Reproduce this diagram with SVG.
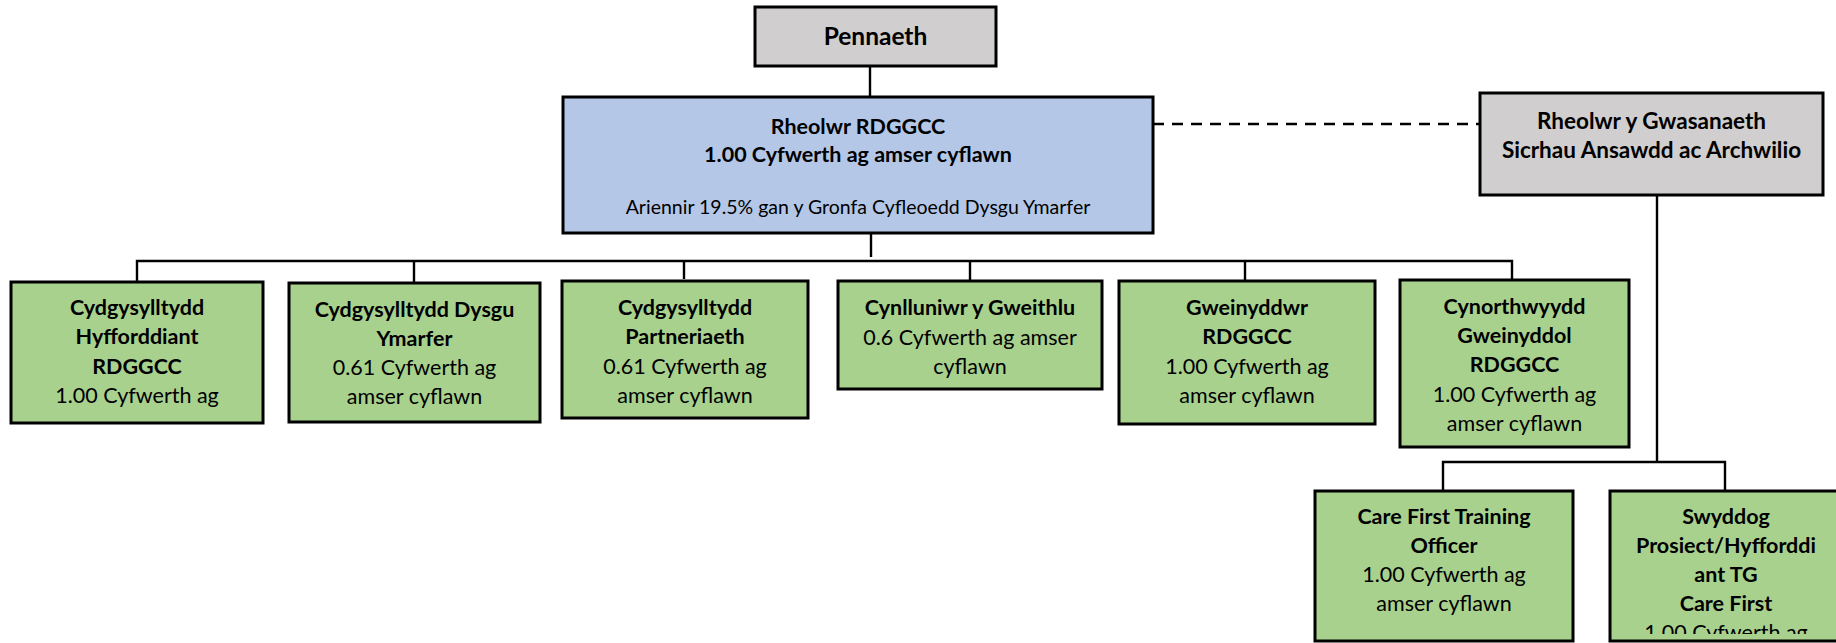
<svg xmlns="http://www.w3.org/2000/svg" width="1836" height="643" viewBox="0 0 1836 643">
<style>
  .box { stroke: #000; stroke-width: 3; }
  .gray { fill: #d0cece; }
  .blue { fill: #b4c7e7; }
  .green { fill: #a9d18e; }
  .conn { stroke: #000; stroke-width: 2.4; fill: none; }
  .dash { stroke: #000; stroke-width: 2.5; fill: none; stroke-dasharray: 11 8; }
  text { font-family: Lato, "Liberation Sans", sans-serif; font-size: 21.5px; fill: #000; text-anchor: middle; }
  .b { font-weight: 700; }
  .big { font-size: 24.5px; }
  .mid { font-size: 22.5px; }
  .small { font-size: 19.5px; }
</style>
<defs>
  <clipPath id="clipSwy"><rect x="1610" y="491" width="232" height="143"/></clipPath>
</defs>
<rect width="1836" height="643" fill="#fff"/>

<g id="connectors">
  <line class="conn" x1="870" y1="66" x2="870" y2="97"/>
  <line class="conn" x1="871" y1="233" x2="871" y2="257"/>
  <polyline class="conn" points="137,282 137,261 1512,261 1512,280"/>
  <line class="conn" x1="414" y1="261" x2="414" y2="283"/>
  <line class="conn" x1="684" y1="261" x2="684" y2="279"/>
  <line class="conn" x1="970" y1="261" x2="970" y2="281"/>
  <line class="conn" x1="1245" y1="261" x2="1245" y2="281"/>
  <line class="dash" x1="1153" y1="124" x2="1480" y2="124"/>
  <line class="conn" x1="1657" y1="195" x2="1657" y2="462"/>
  <polyline class="conn" points="1443,491 1443,462 1725,462 1725,491"/>
</g>

<g id="pennaeth">
  <rect class="box gray" x="755" y="7" width="241" height="59"/>
  <text class="b big" x="875.5" y="45">Pennaeth</text>
</g>

<g id="rheolwr-rdggcc">
  <rect class="box blue" x="563" y="97" width="590" height="136"/>
  <text class="b" x="858" y="134">Rheolwr RDGGCC</text>
  <text class="b" x="858" y="162">1.00 Cyfwerth ag amser cyflawn</text>
  <text class="small" x="858" y="214">Ariennir 19.5% gan y Gronfa Cyfleoedd Dysgu Ymarfer</text>
</g>

<g id="rheolwr-gwasanaeth">
  <rect class="box gray" x="1480" y="93" width="343" height="102"/>
  <text class="b mid" x="1651.5" y="129">Rheolwr y Gwasanaeth</text>
  <text class="b mid" x="1651.5" y="158">Sicrhau Ansawdd ac Archwilio</text>
</g>

<g id="cydgysylltydd-hyfforddiant">
  <rect class="box green" x="11" y="282" width="252" height="141"/>
  <text class="b" x="137" y="315">Cydgysylltydd</text>
  <text class="b" x="137" y="344">Hyfforddiant</text>
  <text class="b" x="137" y="374">RDGGCC</text>
  <text x="137" y="403">1.00 Cyfwerth ag</text>
</g>

<g id="cydgysylltydd-dysgu">
  <rect class="box green" x="289" y="283" width="251" height="139"/>
  <text class="b" x="414.5" y="317">Cydgysylltydd Dysgu</text>
  <text class="b" x="414.5" y="346">Ymarfer</text>
  <text x="414.5" y="375">0.61 Cyfwerth ag</text>
  <text x="414.5" y="404">amser cyflawn</text>
</g>

<g id="cydgysylltydd-partneriaeth">
  <rect class="box green" x="562" y="281" width="246" height="137"/>
  <text class="b" x="685" y="315">Cydgysylltydd</text>
  <text class="b" x="685" y="344">Partneriaeth</text>
  <text x="685" y="374">0.61 Cyfwerth ag</text>
  <text x="685" y="403">amser cyflawn</text>
</g>

<g id="cynlluniwr">
  <rect class="box green" x="838" y="281" width="264" height="108"/>
  <text class="b" x="970" y="315">Cynlluniwr y Gweithlu</text>
  <text x="970" y="345">0.6 Cyfwerth ag amser</text>
  <text x="970" y="374">cyflawn</text>
</g>

<g id="gweinyddwr">
  <rect class="box green" x="1119" y="281" width="256" height="143"/>
  <text class="b" x="1247" y="315">Gweinyddwr</text>
  <text class="b" x="1247" y="344">RDGGCC</text>
  <text x="1247" y="374">1.00 Cyfwerth ag</text>
  <text x="1247" y="403">amser cyflawn</text>
</g>

<g id="cynorthwyydd">
  <rect class="box green" x="1400" y="280" width="229" height="167"/>
  <text class="b" x="1514.5" y="314">Cynorthwyydd</text>
  <text class="b" x="1514.5" y="343">Gweinyddol</text>
  <text class="b" x="1514.5" y="372">RDGGCC</text>
  <text x="1514.5" y="402">1.00 Cyfwerth ag</text>
  <text x="1514.5" y="431">amser cyflawn</text>
</g>

<g id="care-first-officer">
  <rect class="box green" x="1315" y="491" width="258" height="150"/>
  <text class="b" x="1444" y="524">Care First Training</text>
  <text class="b" x="1444" y="553">Officer</text>
  <text x="1444" y="582">1.00 Cyfwerth ag</text>
  <text x="1444" y="611">amser cyflawn</text>
</g>

<g id="swyddog-prosiect">
  <rect class="box green" x="1610" y="491" width="232" height="150"/>
  <text class="b" x="1726" y="524">Swyddog</text>
  <text class="b" x="1726" y="553">Prosiect/Hyfforddi</text>
  <text class="b" x="1726" y="582">ant TG</text>
  <text class="b" x="1726" y="611">Care First</text>
  <text x="1726" y="640" clip-path="url(#clipSwy)">1.00 Cyfwerth ag</text>
</g>
</svg>
